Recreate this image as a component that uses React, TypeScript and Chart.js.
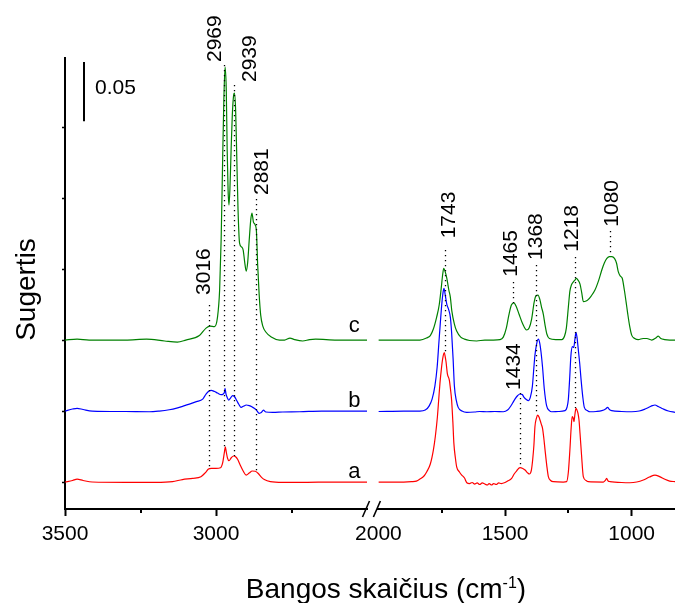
import React, { useEffect, useRef } from "react";
import { Chart, registerables } from "chart.js";

Chart.register(...registerables);

const FONT = "'Liberation Sans', Arial, Helvetica, sans-serif";

// ---------------- data ----------------
// panel ranges (cm-1)
const highRange = [2500, 3500];
const lowRange = [829, 2000];

// x ticks and their labels
const highTicks = [3500, 3250, 3000, 2750, 2500];
const highTickLabels = ["3500", "", "3000", "", ""];
const highMajor = [3500, 3000];
const highMinor = [3250, 2750];
const lowTicks = [2000, 1750, 1500, 1250, 1000];
const lowTickLabels = ["2000", "", "1500", "", "1000"];
const lowMajor = [1500, 1000];
const lowMinor = [1750, 1250];
const yTicks = [0, 0.06, 0.12, 0.18, 0.24, 0.3];
const yRange = [-0.0228, 0.3584];

// series
const seriesNames = ["a", "b", "c"];
const seriesColors = ["#ff0000", "#0000ff", "#008000"];
const seriesOffsets = [0, 0.06, 0.12];

// [wavenumber, absorbance]
const aHigh: [number, number][] = [
  [3500, 0], [3475, 0.0013], [3460, 0.0024], [3440, 0.0013], [3410, 0], [3300, -0.0003], [3200, -0.0003],
  [3144, 0.0003], [3111, 0.0021], [3077, 0.0031], [3050, 0.0045], [3035, 0.008], [3025, 0.011], [3015, 0.0116],
  [3000, 0.0116], [2985, 0.0121], [2978, 0.0161], [2972, 0.0254], [2969, 0.0298], [2966, 0.0254], [2962, 0.0203],
  [2957, 0.018], [2950, 0.0203], [2942, 0.022], [2936, 0.0215], [2928, 0.019], [2920, 0.0144], [2910, 0.0093],
  [2900, 0.0059], [2890, 0.0076], [2880, 0.0093], [2870, 0.0091], [2860, 0.0072], [2850, 0.0042], [2840, 0.0021],
  [2820, 0.0003], [2780, -0.0003], [2723, -0.0003], [2600, 0], [2500, 0],
];
const bHigh: [number, number][] = [
  [3500, 0], [3475, 0.0017], [3460, 0.0023], [3440, 0.0013], [3410, 0], [3300, -0.0004], [3221, -0.0006],
  [3188, 0], [3155, 0.0011], [3130, 0.0025], [3111, 0.004], [3088, 0.0059], [3065, 0.008], [3044, 0.0101],
  [3033, 0.0144], [3023, 0.0169], [3016, 0.0175], [3005, 0.0165], [2995, 0.0152], [2983, 0.0138], [2976, 0.0144],
  [2972, 0.016], [2970, 0.0192], [2967, 0.0145], [2963, 0.0115], [2958, 0.0093], [2952, 0.011], [2945, 0.0131],
  [2939, 0.0123], [2931, 0.0087], [2924, 0.0055], [2917, 0.0031], [2908, 0.0042], [2900, 0.0051], [2890, 0.0046],
  [2880, 0.0034], [2867, 0.0011], [2857, -0.0019], [2850, -0.0013], [2843, 0.0008], [2835, -0.0008],
  [2812, -0.0011], [2779, -0.0008], [2723, -0.0006], [2650, 0], [2500, 0],
];
const cHigh: [number, number][] = [
  [3500, 0], [3460, 0.0008], [3420, 0], [3300, 0], [3230, 0.0008], [3170, -0.0008], [3128, -0.0017], [3100, 0],
  [3055, 0.0038], [3033, 0.0101], [3020, 0.0118], [3005, 0.0114], [2995, 0.0194], [2988, 0.0423], [2983, 0.0845],
  [2978, 0.1521], [2974, 0.2028], [2970, 0.2307], [2966, 0.2113], [2963, 0.1606], [2960, 0.1268], [2957, 0.1141],
  [2954, 0.1268], [2950, 0.1606], [2946, 0.1901], [2942, 0.2062], [2939, 0.2087], [2935, 0.1944], [2931, 0.1521],
  [2927, 0.1099], [2922, 0.082], [2915, 0.0786], [2910, 0.0761], [2905, 0.0659], [2900, 0.0583], [2895, 0.0659],
  [2890, 0.0845], [2885, 0.1014], [2881, 0.1073], [2876, 0.0997], [2870, 0.0972], [2866, 0.0913], [2862, 0.0634],
  [2857, 0.038], [2852, 0.0211], [2845, 0.0118], [2835, 0.0068], [2817, 0.0025], [2790, 0], [2773, 0],
  [2755, 0.0017], [2740, 0.0004], [2713, -0.0008], [2690, 0.0004], [2670, 0.0008], [2600, 0], [2500, 0],
];
const aLow: [number, number][] = [
  [2000, 0], [1900, 0], [1869, 0.0003], [1850, 0.0008], [1836, 0.0025], [1820, 0.0051], [1809, 0.0087],
  [1795, 0.0152], [1783, 0.027], [1775, 0.0389], [1767, 0.0552], [1762, 0.0693], [1757, 0.0834], [1751, 0.0963],
  [1746, 0.1045], [1740, 0.1093], [1736, 0.1056], [1733, 0.1017], [1728, 0.0919], [1720, 0.0862], [1715, 0.0777],
  [1711, 0.0693], [1706, 0.0507], [1702, 0.0327], [1696, 0.0203], [1691, 0.0129], [1680, 0.0085], [1671, 0.0059],
  [1660, 0.0034], [1651, -0.0006], [1640, -0.0013], [1630, -0.0004], [1620, -0.0017], [1610, -0.0008],
  [1600, -0.0021], [1590, -0.0008], [1580, -0.0017], [1570, -0.0025], [1563, -0.0013], [1553, -0.0025],
  [1545, -0.0013], [1535, -0.0021], [1525, -0.0008], [1515, -0.0013], [1500, -0.0004], [1490, 0.0008],
  [1474, 0.0031], [1464, 0.0068], [1454, 0.0095], [1441, 0.0121], [1430, 0.0114], [1421, 0.0101], [1410, 0.0076],
  [1404, 0.0068], [1396, 0.0101], [1391, 0.0186], [1386, 0.0313], [1382, 0.0467], [1376, 0.0541], [1371, 0.0566],
  [1366, 0.0549], [1362, 0.0524], [1357, 0.049], [1352, 0.0454], [1347, 0.0372], [1342, 0.027], [1335, 0.0135],
  [1329, 0.0045], [1320, 0.0013], [1309, 0.0003], [1270, 0], [1257, 0.0003], [1250, 0.0085], [1244, 0.027],
  [1239, 0.0456], [1235, 0.0552], [1231, 0.0541], [1228, 0.051], [1224, 0.0575], [1220, 0.0623], [1216, 0.0608],
  [1212, 0.0581], [1208, 0.0524], [1204, 0.0412], [1198, 0.0228], [1191, 0.0045], [1180, 0.0013], [1172, 0.0003],
  [1112, 0], [1104, 0.0013], [1099, 0.0031], [1093, 0.0008], [1086, 0.0004], [1040, -0.0004], [1007, -0.0006],
  [980, 0], [954, 0.0017], [930, 0.0042], [908, 0.0059], [890, 0.0046], [869, 0.0023], [850, 0.0008], [829, 0.0003],
];
const bLow: [number, number][] = [
  [2000, -0.0004], [1900, 0], [1836, 0], [1815, 0.0008], [1800, 0.0042], [1788, 0.0101], [1777, 0.0211],
  [1768, 0.0372], [1761, 0.0583], [1755, 0.076], [1749, 0.0921], [1744, 0.1014], [1741, 0.1037], [1736, 0.098],
  [1730, 0.0904], [1722, 0.0853], [1716, 0.0794], [1711, 0.0667], [1705, 0.0439], [1700, 0.0211], [1692, 0.0085],
  [1685, 0.0031], [1670, 0], [1651, -0.0011], [1620, -0.0008], [1600, -0.0004], [1572, -0.0006], [1540, -0.0004],
  [1507, -0.0006], [1490, 0.0008], [1480, 0.0034], [1470, 0.0068], [1461, 0.0101], [1450, 0.0131], [1441, 0.0144],
  [1432, 0.0139], [1425, 0.0116], [1416, 0.0097], [1408, 0.0087], [1400, 0.0118], [1392, 0.0211], [1386, 0.0372],
  [1382, 0.047], [1376, 0.056], [1369, 0.0608], [1363, 0.0575], [1358, 0.0499], [1352, 0.0372], [1345, 0.0186],
  [1336, 0.0045], [1325, 0.0004], [1316, -0.0006], [1290, -0.0004], [1263, 0.0003], [1255, 0.0034], [1250, 0.0101],
  [1245, 0.027], [1240, 0.0467], [1234, 0.0545], [1229, 0.0537], [1224, 0.0608], [1220, 0.0665], [1216, 0.0625],
  [1211, 0.0524], [1205, 0.0397], [1200, 0.027], [1193, 0.0118], [1187, 0.0031], [1175, 0.0004], [1165, -0.0006],
  [1140, -0.0004], [1118, 0.0003], [1103, 0.0017], [1095, 0.0031], [1088, 0.0013], [1079, 0.0003], [1040, -0.0004],
  [1000, -0.0006], [970, 0], [947, 0.0017], [930, 0.0034], [918, 0.0046], [908, 0.0051], [895, 0.0038],
  [875, 0.0017], [855, 0], [829, -0.0011],
];
const cLow: [number, number][] = [
  [2000, 0], [1900, 0], [1836, 0], [1810, 0.0017], [1795, 0.0038], [1783, 0.0093], [1770, 0.0194], [1760, 0.0296],
  [1752, 0.0439], [1746, 0.0558], [1742, 0.0606], [1737, 0.0583], [1730, 0.0524], [1722, 0.0423], [1716, 0.0363],
  [1710, 0.0245], [1700, 0.0135], [1691, 0.0076], [1675, 0.0025], [1660, 0.0008], [1640, -0.0004], [1612, -0.0008],
  [1580, 0], [1546, 0], [1520, 0.0004], [1507, 0.0025], [1495, 0.0101], [1485, 0.0211], [1475, 0.0296],
  [1465, 0.0315], [1455, 0.0279], [1445, 0.022], [1430, 0.0135], [1415, 0.0085], [1405, 0.0101], [1395, 0.0177],
  [1385, 0.0321], [1377, 0.0376], [1370, 0.038], [1362, 0.0338], [1356, 0.0279], [1349, 0.022], [1342, 0.0127],
  [1335, 0.0051], [1325, 0.0013], [1300, 0.0004], [1276, 0.0004], [1265, 0.0034], [1258, 0.0101], [1250, 0.0279],
  [1244, 0.0414], [1238, 0.0465], [1231, 0.049], [1224, 0.0507], [1218, 0.0521], [1212, 0.0507], [1204, 0.0473],
  [1197, 0.0397], [1191, 0.0325], [1180, 0.033], [1172, 0.0342], [1160, 0.0372], [1145, 0.0423], [1130, 0.0507],
  [1118, 0.0592], [1108, 0.0651], [1098, 0.069], [1088, 0.0706], [1078, 0.0706], [1068, 0.069], [1060, 0.0651],
  [1053, 0.0579], [1045, 0.0541], [1037, 0.052], [1029, 0.0423], [1022, 0.0321], [1016, 0.0228], [1008, 0.0118],
  [1000, 0.0042], [988, 0.0013], [974, 0.0004], [955, 0.0013], [940, 0.0013], [921, 0], [905, 0.0017],
  [895, 0.0034], [885, 0.0013], [870, 0.0004], [850, 0], [829, 0],
];
const highSeries = [aHigh, bHigh, cHigh];
const lowSeries = [aLow, bLow, cLow];

// peak annotations
const peakLabels = ["3016", "2969", "2939", "2881", "1743", "1465", "1434", "1368", "1218", "1080"];
const peakLineWn = [3022, 2972, 2942, 2869, 1737, 1467, 1439, 1377, 1224, 1086];

// ---------------- layout (positions, in data coordinates) ----------------
const peakLayout = [
  { panel: "high", textWn: 3018.6, textY: 0.1581, top: 0.1496, bottom: 0.0118 },
  { panel: "high", textWn: 2982, textY: 0.355, top: 0.3525, bottom: 0.0296 },
  { panel: "high", textWn: 2869, textY: 0.3381, top: 0.3356, bottom: 0.022 },
  { panel: "high", textWn: 2829, textY: 0.2426, top: 0.2392, bottom: 0.0093 },
  { panel: "low", textWn: 1697.6, textY: 0.206, top: 0.1961, bottom: 0.109 },
  { panel: "low", textWn: 1454, textY: 0.1735, top: 0.1691, bottom: 0.1513 },
  { panel: "low", textWn: 1441, textY: 0.0778, top: 0.0752, bottom: 0.0118 },
  { panel: "low", textWn: 1353, textY: 0.1877, top: 0.1834, bottom: 0.0566 },
  { panel: "low", textWn: 1210.8, textY: 0.1947, top: 0.1902, bottom: 0.0626 },
  { panel: "low", textWn: 1052.9, textY: 0.2158, top: 0.2122, bottom: 0.191 },
];
const seriesLabelWn = 2542;
const seriesLabelY = [0.0031, 0.0637, 0.1268];
const scaleBar = { wn: 3437, top: 0.355, length: 0.05, label: "0.05", textWn: 3400.4, textY: 0.328 };
const xTitleMain = "Bangos skaičius (cm";
const xTitleSup = "-1";
const xTitleEnd = ")";
const yTitle = "Sugertis";
const xTitlePos = { x: 386, y: 598 };
const yTitlePos = { x: 35, y: 289.5 };

const overlayPlugin = {
  id: "overlay",
  afterDatasetsDraw(chart: any) {
    const ctx: CanvasRenderingContext2D = chart.ctx;
    const sx: any = { high: chart.scales.x1, low: chart.scales.x2 };
    const sy = chart.scales.y;
    const axisY = chart.chartArea.bottom;
    ctx.save();

    // dotted guide lines
    ctx.strokeStyle = "#000";
    ctx.lineWidth = 1.3;
    ctx.setLineDash([1.3, 3.7]);
    peakLayout.forEach((p, i) => {
      const x = Math.round(sx[p.panel].getPixelForValue(peakLineWn[i])) + 0.5;
      ctx.beginPath();
      ctx.moveTo(x, sy.getPixelForValue(p.top));
      ctx.lineTo(x, sy.getPixelForValue(p.bottom));
      ctx.stroke();
    });
    ctx.setLineDash([]);

    // peak labels (rotated)
    ctx.fillStyle = "#000";
    ctx.font = `21px ${FONT}`;
    ctx.textAlign = "left";
    ctx.textBaseline = "alphabetic";
    peakLayout.forEach((p, i) => {
      ctx.save();
      ctx.translate(sx[p.panel].getPixelForValue(p.textWn), sy.getPixelForValue(p.textY));
      ctx.rotate(-Math.PI / 2);
      ctx.fillText(peakLabels[i], 0, 0);
      ctx.restore();
    });

    // series labels
    ctx.font = `22px ${FONT}`;
    ctx.textAlign = "center";
    seriesNames.forEach((n, i) => {
      ctx.fillText(n, sx.high.getPixelForValue(seriesLabelWn), sy.getPixelForValue(seriesLabelY[i]));
    });

    // scale bar
    const bx = Math.round(sx.high.getPixelForValue(scaleBar.wn));
    ctx.lineWidth = 2;
    ctx.beginPath();
    ctx.moveTo(bx, sy.getPixelForValue(scaleBar.top));
    ctx.lineTo(bx, sy.getPixelForValue(scaleBar.top - scaleBar.length));
    ctx.stroke();
    ctx.font = `21px ${FONT}`;
    ctx.textAlign = "left";
    ctx.fillText(scaleBar.label, sx.high.getPixelForValue(scaleBar.textWn), sy.getPixelForValue(scaleBar.textY));

    // minor ticks
    ctx.lineWidth = 2;
    const minor = (scale: any, vals: number[]) =>
      vals.forEach((v) => {
        const x = Math.round(scale.getPixelForValue(v));
        ctx.beginPath();
        ctx.moveTo(x, axisY);
        ctx.lineTo(x, axisY + 4);
        ctx.stroke();
      });
    minor(sx.high, highMinor);
    minor(sx.low, lowMinor);

    // axis break marks
    ctx.lineWidth = 1.6;
    [sx.high.right - 1, sx.low.left - 1.5].forEach((x: number) => {
      ctx.beginPath();
      ctx.moveTo(x - 3.5, axisY + 8);
      ctx.lineTo(x + 3.5, axisY - 8);
      ctx.stroke();
    });

    // x title with superscript
    ctx.textAlign = "left";
    ctx.font = `28px ${FONT}`;
    const wMain = ctx.measureText(xTitleMain).width;
    const wEnd = ctx.measureText(xTitleEnd).width;
    ctx.font = `16px ${FONT}`;
    const wSup = ctx.measureText(xTitleSup).width;
    let tx = xTitlePos.x - (wMain + wSup + wEnd) / 2;
    ctx.font = `28px ${FONT}`;
    ctx.fillText(xTitleMain, tx, xTitlePos.y);
    tx += wMain;
    ctx.font = `16px ${FONT}`;
    ctx.fillText(xTitleSup, tx, xTitlePos.y - 10);
    tx += wSup;
    ctx.font = `28px ${FONT}`;
    ctx.fillText(xTitleEnd, tx, xTitlePos.y);

    // y title
    ctx.save();
    ctx.translate(yTitlePos.x, yTitlePos.y);
    ctx.rotate(-Math.PI / 2);
    ctx.textAlign = "center";
    ctx.fillText(yTitle, 0, 0);
    ctx.restore();

    ctx.restore();
  },
};

function makeDatasets() {
  const sets: any[] = [];
  seriesNames.forEach((name, i) => {
    [
      { id: "x1", pts: highSeries[i] },
      { id: "x2", pts: lowSeries[i] },
    ].forEach((part) => {
      sets.push({
        label: `${name}-${part.id}`,
        xAxisID: part.id,
        yAxisID: "y",
        data: part.pts.map(([x, y]) => ({ x, y: y + seriesOffsets[i] })),
        borderColor: seriesColors[i],
        borderWidth: 1.2,
        pointRadius: 0,
        fill: false,
        cubicInterpolationMode: "monotone",
      });
    });
  });
  return sets;
}

function xAxis(range: number[], ticks: number[], labels: string[], major: number[], weight: number) {
  return {
    type: "linear",
    position: "bottom",
    stack: "xs",
    stackWeight: weight,
    reverse: true,
    min: range[0],
    max: range[1],
    afterBuildTicks: (s: any) => {
      s.ticks = ticks.map((v) => ({ value: v }));
    },
    afterFit: (s: any) => {
      s.height = 94;
      s.paddingLeft = 0;
      s.paddingRight = 0;
    },
    ticks: {
      autoSkip: false,
      maxRotation: 0,
      padding: 6,
      color: "#000",
      font: { family: FONT, size: 21 },
      callback: (_v: any, i: number) => labels[i],
    },
    grid: {
      display: true,
      drawOnChartArea: false,
      drawTicks: true,
      tickLength: 7,
      tickWidth: 2,
      tickColor: (c: any) => (c.tick && major.includes(c.tick.value) ? "#000" : "rgba(0,0,0,0)"),
    },
    border: { display: true, color: "#000", width: 2 },
  };
}

export default function App() {
  const ref = useRef<HTMLCanvasElement>(null);
  useEffect(() => {
    if (!ref.current) return;
    const chart = new Chart(ref.current, {
      type: "line",
      data: { datasets: makeDatasets() },
      options: {
        animation: false,
        responsive: false,
        events: [],
        layout: { padding: { top: 58, left: 0, right: 0, bottom: 0 } },
        plugins: { legend: { display: false }, tooltip: { enabled: false } },
        scales: {
          x1: xAxis(highRange, highTicks, highTickLabels, highMajor, 302),
          xgap: {
            type: "linear",
            position: "bottom",
            stack: "xs",
            stackWeight: 11.4,
            min: 0,
            max: 1,
            afterFit: (s: any) => {
              s.height = 94;
              s.paddingLeft = 0;
              s.paddingRight = 0;
            },
            ticks: { display: false },
            grid: { display: false },
            border: { display: false },
          },
          x2: xAxis(lowRange, lowTicks, lowTickLabels, lowMajor, 296.6),
          y: {
            type: "linear",
            position: "left",
            min: yRange[0],
            max: yRange[1],
            afterBuildTicks: (s: any) => {
              s.ticks = yTicks.map((v) => ({ value: v }));
            },
            afterFit: (s: any) => {
              s.width = 65;
              s.paddingTop = 0;
              s.paddingBottom = 0;
            },
            ticks: { display: false },
            grid: {
              display: true,
              drawOnChartArea: false,
              drawTicks: true,
              tickLength: 3,
              tickWidth: 1.5,
              tickColor: "#000",
            },
            border: { display: true, color: "#000", width: 2 },
          },
        } as any,
      },
      plugins: [overlayPlugin],
    } as any);
    return () => chart.destroy();
  }, []);
  return (
    <div style={{ position: "fixed", left: 0, top: 0, width: 675, height: 603, background: "#fff" }}>
      <canvas ref={ref} width={675} height={603} style={{ display: "block", width: 675, height: 603 }} />
    </div>
  );
}
